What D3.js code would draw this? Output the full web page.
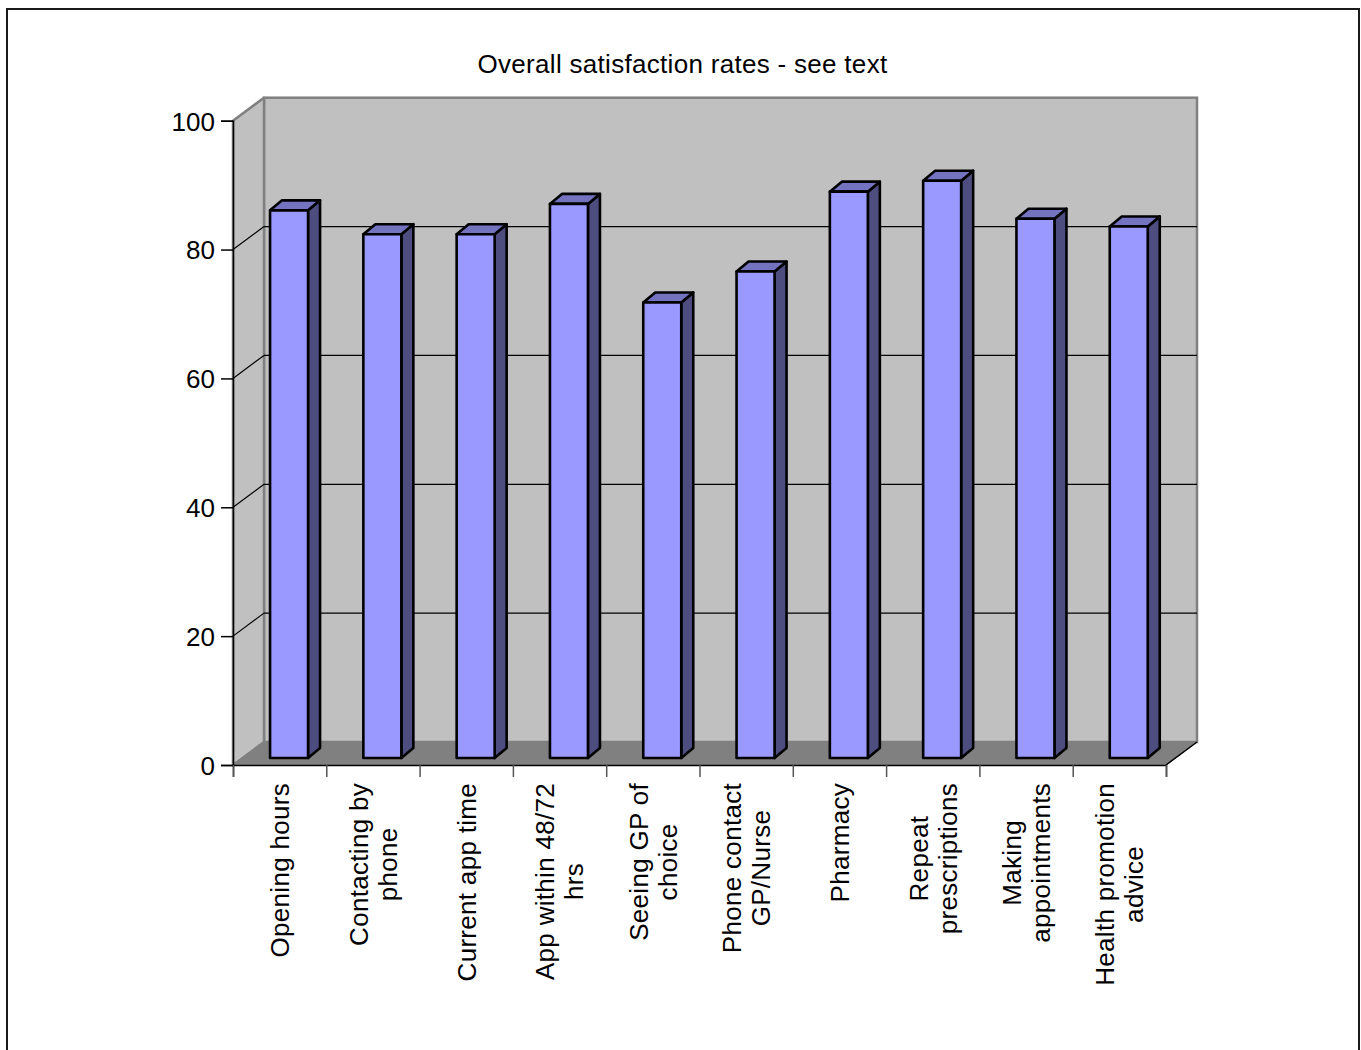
<!DOCTYPE html>
<html>
<head>
<meta charset="utf-8">
<script src="https://cdn.jsdelivr.net/npm/d3@7/dist/d3.min.js"></script>
<style>
  html, body { margin: 0; padding: 0; background: #fff; }
  svg { display: block; }
  text { font-family: "Liberation Sans", Arial, sans-serif; fill: #000; }
</style>
</head>
<body>
<svg id="chart" width="1361" height="1050"></svg>
<script>
// ---- data ----
const title = "Overall satisfaction rates - see text";
const categories = [
  ["Opening hours"],
  ["Contacting by", "phone"],
  ["Current app time"],
  ["App within 48/72", "hrs"],
  ["Seeing GP of", "choice"],
  ["Phone contact", "GP/Nurse"],
  ["Pharmacy"],
  ["Repeat", "prescriptions"],
  ["Making", "appointments"],
  ["Health promotion", "advice"]
];
const values = [85, 81.3, 81.3, 86, 70.7, 75.5, 87.9, 89.6, 83.7, 82.5];
const yTicks = [0, 20, 40, 60, 80, 100];

// ---- layout ----
const svg = d3.select("#chart");
const fontSize = 26;
const frontLeft = 233, frontRight = 1166, frontBottom = 765, frontTop = 120.7;
const depthDX = 31, depthDY = 23;          // floor depth
const barZX = 9.4, barZY = 7;              // bar front face depth offset
const barDX = 12, barDY = 10;              // bar own depth
const barWidth = 38;

const keys = categories.map((c, i) => i);
const x = d3.scaleBand().domain(keys).range([frontLeft, frontRight]).padding(0);
const y = d3.scaleLinear().domain([0, 100]).range([frontBottom, frontTop]);
const xBound = d3.scaleLinear().domain([0, categories.length]).range([frontLeft, frontRight]);

// frame
svg.append("rect").attr("x", 7).attr("y", 9).attr("width", 1352).attr("height", 1060)
  .attr("fill", "#fff").attr("stroke", "#1a1a1a").attr("stroke-width", 2);

// title
svg.append("text").attr("x", 682.5).attr("y", 73).attr("text-anchor", "middle")
  .attr("font-size", fontSize).attr("letter-spacing", 0.3).text(title);

const bx0 = frontLeft + depthDX, bx1 = frontRight + depthDX;
const by = v => y(v) - depthDY;

// back wall
svg.append("rect").attr("x", bx0).attr("y", by(100)).attr("width", bx1 - bx0)
  .attr("height", by(0) - by(100)).attr("fill", "#c0c0c0")
  .attr("stroke", "#808080").attr("stroke-width", 2.5);
// left wall
svg.append("polygon")
  .attr("points", [[frontLeft, y(0)], [frontLeft, y(100)], [bx0, by(100)], [bx0, by(0)]].map(p => p.join(",")).join(" "))
  .attr("fill", "#c0c0c0").attr("stroke", "#808080").attr("stroke-width", 2.5).attr("stroke-linejoin", "round");
// floor
svg.append("polygon")
  .attr("points", [[frontLeft, y(0)], [bx0, by(0)], [bx1, by(0)], [frontRight, y(0)]].map(p => p.join(",")).join(" "))
  .attr("fill", "#808080").attr("stroke", "#808080").attr("stroke-width", 1);

// gridlines
const grid = yTicks.filter(t => t > 0 && t < 100);
svg.append("g").selectAll("line.gb").data(grid).join("line")
  .attr("x1", bx0).attr("x2", bx1).attr("y1", d => by(d)).attr("y2", d => by(d))
  .attr("stroke", "#000").attr("stroke-width", 1.2);
svg.append("g").selectAll("line.gl").data(grid).join("line")
  .attr("x1", frontLeft).attr("x2", bx0).attr("y1", d => y(d)).attr("y2", d => by(d))
  .attr("stroke", "#000").attr("stroke-width", 1.2);

// floor right edge
svg.append("line").attr("x1", frontRight).attr("y1", y(0)).attr("x2", bx1).attr("y2", by(0))
  .attr("stroke", "#000").attr("stroke-width", 1.5);

// bars
const bars = svg.append("g");
categories.forEach((c, i) => {
  const v = values[i];
  const xl = x(i) + x.bandwidth() / 2 - barWidth / 2 + barZX;
  const xr = xl + barWidth;
  const yb = y(0) - barZY;
  const yt = y(v) - barZY;
  const g = bars.append("g").attr("stroke", "#000").attr("stroke-width", 2.6).attr("stroke-linejoin", "round");
  g.append("polygon")
    .attr("points", [[xr, yt], [xr + barDX, yt - barDY], [xr + barDX, yb - barDY], [xr, yb]].map(p => p.join(",")).join(" "))
    .attr("fill", "#4d4d80");
  g.append("polygon")
    .attr("points", [[xl, yt], [xl + barDX, yt - barDY], [xr + barDX, yt - barDY], [xr, yt]].map(p => p.join(",")).join(" "))
    .attr("fill", "#7373bf");
  g.append("rect").attr("x", xl).attr("y", yt).attr("width", barWidth).attr("height", yb - yt)
    .attr("fill", "#9999ff");
});

// y axis
const yAxis = svg.append("g").attr("transform", `translate(${frontLeft},0)`)
  .call(d3.axisLeft(y).tickValues(yTicks).tickSize(12).tickPadding(6).tickFormat(d3.format("d")));
yAxis.select(".domain").attr("stroke", "#000").attr("stroke-width", 1.5);
yAxis.selectAll(".tick line").attr("stroke", "#000").attr("stroke-width", 1.5);
yAxis.selectAll(".tick text").attr("font-size", fontSize).attr("font-family", "Liberation Sans, Arial, sans-serif").attr("dy", "0.36em");

// x axis (category boundaries)
const xAxis = svg.append("g").attr("transform", `translate(0,${frontBottom})`)
  .call(d3.axisBottom(xBound).tickValues(d3.range(categories.length + 1)).tickSize(12).tickFormat(""));
xAxis.select(".domain").attr("stroke", "#000").attr("stroke-width", 1.5);
xAxis.selectAll(".tick line").attr("stroke", "#555").attr("stroke-width", 1.5);

// category labels
const labelTop = 783, lineH = 29;
const lab = svg.append("g");
categories.forEach((lines, i) => {
  const cx = x(i) + x.bandwidth() / 2;
  const t = lab.append("text").attr("font-size", fontSize).attr("text-anchor", "middle").attr("letter-spacing", 0.3);
  lines.forEach((ln, j) => {
    t.append("tspan").attr("x", 0).attr("y", (j - (lines.length - 1) / 2) * lineH).attr("dy", "0.36em").text(ln);
  });
  let maxW = 0;
  t.selectAll("tspan").each(function () { maxW = Math.max(maxW, this.getComputedTextLength()); });
  t.attr("transform", `translate(${cx},${labelTop + maxW / 2}) rotate(-90)`);
});
</script>
</body>
</html>
